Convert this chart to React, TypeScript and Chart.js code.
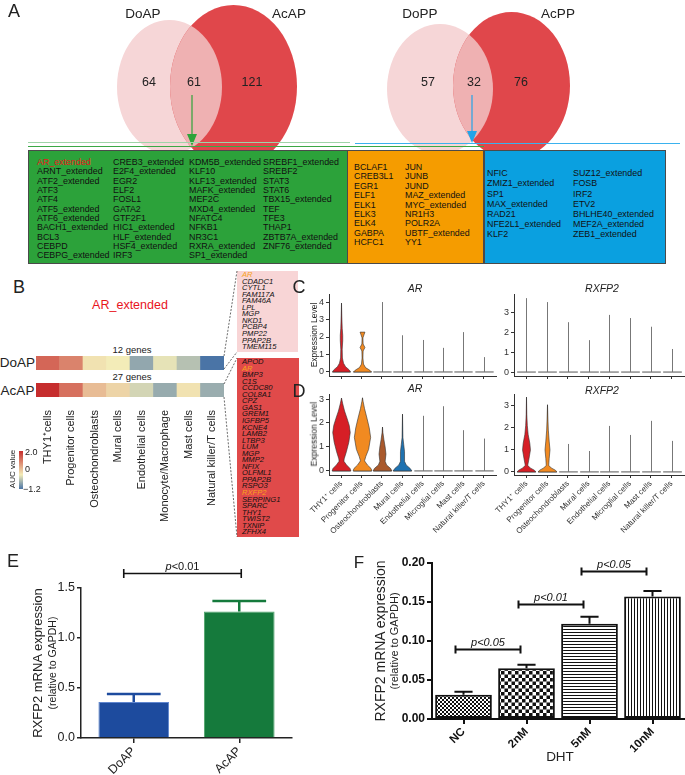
import React, { useEffect, useRef } from 'react';
import { Chart, registerables } from 'chart.js';

Chart.register(...registerables);

const FONT = 'Arial, "Liberation Sans", Helvetica, sans-serif';
Chart.defaults.font.family = FONT;
Chart.defaults.color = '#222';

/* ================= DATA ================= */
// Panel A – Venn diagrams
const vennAPSets = ['DoAP', 'AcAP'];
const vennAPCounts = [64, 61, 121];
const vennPPSets = ['DoPP', 'AcPP'];
const vennPPCounts = [57, 32, 76];

// Panel A – transcription factor tables
const tfAP1 = ['AR_extended', 'ARNT_extended', 'ATF2_extended', 'ATF3', 'ATF4', 'ATF5_extended', 'ATF6_extended', 'BACH1_extended', 'BCL3', 'CEBPD', 'CEBPG_extended'];
const tfAP2 = ['CREB3_extended', 'E2F4_extended', 'EGR2', 'ELF2', 'FOSL1', 'GATA2', 'GTF2F1', 'HIC1_extended', 'HLF_extended', 'HSF4_extended', 'IRF3'];
const tfAP3 = ['KDM5B_extended', 'KLF10', 'KLF13_extended', 'MAFK_extended', 'MEF2C', 'MXD4_extended', 'NFATC4', 'NFKB1', 'NR3C1', 'RXRA_extended', 'SP1_extended'];
const tfAP4 = ['SREBF1_extended', 'SREBF2', 'STAT3', 'STAT6', 'TBX15_extended', 'TEF', 'TFE3', 'THAP1', 'ZBTB7A_extended', 'ZNF76_extended'];
const tfBoth1 = ['BCLAF1', 'CREB3L1', 'EGR1', 'ELF1', 'ELK1', 'ELK3', 'ELK4', 'GABPA', 'HCFC1'];
const tfBoth2 = ['JUN', 'JUNB', 'JUND', 'MAZ_extended', 'MYC_extended', 'NR1H3', 'POLR2A', 'UBTF_extended', 'YY1'];
const tfPP1 = ['NFIC', 'ZMIZ1_extended', 'SP1', 'MAX_extended', 'RAD21', 'NFE2L1_extended', 'KLF2'];
const tfPP2 = ['SUZ12_extended', 'FOSB', 'IRF2', 'ETV2', 'BHLHE40_extended', 'MEF2A_extended', 'ZEB1_extended'];

// Panel B – AUC heatmap
const regulonName = 'AR_extended';
const cellTypesB = ['THY1⁺cells', 'Progenitor cells', 'Osteochondroblasts', 'Mural cells', 'Endothelial cells', 'Monocyte/Macrophage', 'Mast cells', 'Natural killer/T cells'];
const heatRows = ['DoAP', 'AcAP'];
const heatRowGenes = ['12 genes', '27 genes'];
const aucDoAP = [1.4, 1.1, 0.1, 0.0, -0.69, -0.09, -0.43, -1.2];
const aucAcAP = [2.0, 1.3, 0.5, 0.25, -0.23, -0.65, 0.1, -0.63];
const aucScaleLabels = ['2.0', '0', '−1.2'];
const genesDoAP = ['AR', 'CDADC1', 'CYTL1', 'FAM117A', 'FAM46A', 'LPL', 'MGP', 'NKD1', 'PCBP4', 'PMP22', 'PPAP2B', 'TMEM115'];
const genesAcAP = ['APOD', 'AR', 'BMP3', 'C1S', 'CCDC80', 'COL8A1', 'CPZ', 'GAS1', 'GREM1', 'IGFBP5', 'KCNE4', 'LAMB2', 'LTBP3', 'LUM', 'MGP', 'MMP2', 'NFIX', 'OLFML1', 'PPAP2B', 'RSPO3', 'RXFP2', 'SERPING1', 'SPARC', 'THY1', 'TWIST2', 'TXNIP', 'ZFHX4'];
const highlightGenes = ['AR', 'RXFP2'];

// Panels C / D – violin plots
const cellTypesCD = ['THY1⁺ cells', 'Progenitor cells', 'Osteochondroblasts', 'Mural cells', 'Endothelial cells', 'Microglial cells', 'Mast cells', 'Natural killer/T cells'];
const cArMax = [3.94, 2.28, 4.0, 2.1, 1.83, 1.38, 2.28, 0.85];
const cRxMax = [3.75, 3.55, 2.53, 1.62, 2.9, 2.74, 2.3, 1.17];
const dArMax = [3.04, 3.05, 1.83, 2.37, 2.3, 2.7, 1.7, 1.35];
const dRxMax = [3.4, 3.05, 1.27, 0.95, 2.09, 1.68, 2.32, 1.41];
// density outlines: [expression level, half width as fraction of slot]
const cArThy1 = [[0, 0.44], [0.12, 0.38], [0.3, 0.2], [0.5, 0.1], [0.8, 0.045], [1.3, 0.035], [1.8, 0.06], [2.1, 0.06], [2.5, 0.035], [3.2, 0.015], [3.94, 0]];
const cArProg = [[0, 0.44], [0.1, 0.36], [0.25, 0.15], [0.45, 0.05], [0.8, 0.02], [1.2, 0.03], [1.4, 0.12], [1.6, 0.03], [1.95, 0.02], [2.15, 0.08], [2.28, 0.12], [2.28, 0]];
const dArThy1 = [[0, 0.46], [0.1, 0.42], [0.25, 0.25], [0.4, 0.12], [0.5, 0.13], [0.8, 0.24], [1.2, 0.36], [1.6, 0.43], [1.9, 0.38], [2.2, 0.27], [2.5, 0.15], [2.8, 0.06], [3.04, 0]];
const dArProg = [[0, 0.46], [0.1, 0.42], [0.25, 0.24], [0.42, 0.1], [0.6, 0.16], [0.9, 0.3], [1.4, 0.4], [1.8, 0.33], [2.2, 0.22], [2.6, 0.1], [2.9, 0.03], [3.05, 0]];
const dArOsteo = [[0, 0.46], [0.1, 0.4], [0.25, 0.2], [0.4, 0.13], [0.7, 0.17], [1.0, 0.13], [1.3, 0.07], [1.6, 0.02], [1.83, 0]];
const dArMural = [[0, 0.46], [0.1, 0.38], [0.25, 0.18], [0.4, 0.1], [0.8, 0.1], [1.1, 0.06], [1.4, 0.02], [2.37, 0]];
const dRxThy1 = [[0, 0.45], [0.08, 0.38], [0.18, 0.18], [0.3, 0.06], [0.6, 0.12], [1.0, 0.19], [1.3, 0.16], [1.7, 0.08], [2.1, 0.04], [2.6, 0.015], [3.4, 0]];
const dRxProg = [[0, 0.45], [0.08, 0.38], [0.18, 0.18], [0.3, 0.06], [0.6, 0.08], [1.0, 0.12], [1.4, 0.08], [1.9, 0.04], [2.4, 0.02], [3.05, 0]];
const cArTicks = [0, 1, 2, 3, 4];
const rxTicks = [0, 1, 2, 3];
const dArTicks = [0, 1, 2, 3];

// Panel E
const eGroups = ['DoAP', 'AcAP'];
const eMeans = [0.36, 1.265];
const eErrors = [0.08, 0.105];
const eTicks = [0, 0.5, 1.0, 1.5];
const eComparisons: [number, number, number, string][] = [[0, 1, 1.65, 'p<0.01']];

// Panel F
const fGroups = ['NC', '2nM', '5nM', '10nM'];
const fMeans = [0.031, 0.065, 0.122, 0.157];
const fErrors = [0.004, 0.0045, 0.009, 0.007];
const fTicks = [0, 0.05, 0.1, 0.15, 0.2];
const fComparisons: [number, number, number, string][] = [[0, 1, 0.09, 'p<0.05'], [1, 2, 0.148, 'p<0.01'], [2, 3, 0.19, 'p<0.05']];

/* ================= HELPERS ================= */
const fixW = (w: number) => (s: any) => { s.width = w; s.paddingTop = 0; s.paddingBottom = 0; s.paddingLeft = 0; s.paddingRight = 0; };
const fixH = (h: number) => (s: any) => { s.height = h; s.paddingTop = 0; s.paddingBottom = 0; s.paddingLeft = 0; s.paddingRight = 0; };

const base = (padding: any) => ({
  responsive: false,
  animation: false,
  devicePixelRatio: 1,
  events: [],
  layout: { padding },
  plugins: { legend: { display: false }, tooltip: { enabled: false }, title: { display: false } },
});

function aucColor(v: number) {
  const lo = [74, 116, 166], mid = [243, 236, 184], hi = [198, 45, 45];
  const b = v >= 0 ? hi : lo;
  const t = v >= 0 ? Math.min(1, v / 2.0) : Math.min(1, -v / 1.2);
  const c = mid.map((m, k) => Math.round(m + (b[k] - m) * t));
  return `rgb(${c.join(',')})`;
}

// Venn geometry (layout)
const VENN_AP = [{ cx: 169.5, cy: 87, rx: 52.5, ry: 67 }, { cx: 233.5, cy: 86.5, rx: 63.5, ry: 81.5 }];
const VENN_PP = [{ cx: 440, cy: 89, rx: 53, ry: 65 }, { cx: 511.5, cy: 85.5, rx: 58.5, ry: 73.5 }];

const vennPlugin = {
  id: 'venn',
  afterDatasetsDraw(chart: any) {
    const { ctx } = chart;
    const x = chart.scales.x, y = chart.scales.y;
    const ell = (e: any) => {
      const px = x.getPixelForValue(e.cx), py = y.getPixelForValue(e.cy);
      const rx = Math.abs(x.getPixelForValue(e.cx + e.rx) - px), ry = Math.abs(y.getPixelForValue(e.cy + e.ry) - py);
      ctx.beginPath();
      ctx.ellipse(px, py, rx, ry, 0, 0, Math.PI * 2);
    };
    ctx.save();
    [VENN_AP, VENN_PP].forEach(([a, b]) => {
      ctx.fillStyle = '#f6d6d7'; ell(a); ctx.fill();
      ctx.fillStyle = '#e0474b'; ell(b); ctx.fill();
      ctx.save(); ell(b); ctx.clip(); ctx.fillStyle = '#efb1b2'; ell(a); ctx.fill(); ctx.restore();
    });
    const arrow = (ax: number, y0: number, y1: number, col: string) => {
      const px = x.getPixelForValue(ax);
      ctx.strokeStyle = col; ctx.fillStyle = col; ctx.lineWidth = 1.2;
      ctx.beginPath(); ctx.moveTo(px, y.getPixelForValue(y0)); ctx.lineTo(px, y.getPixelForValue(y1 - 10)); ctx.stroke();
      ctx.beginPath();
      ctx.moveTo(px - 5, y.getPixelForValue(y1 - 12));
      ctx.lineTo(px + 5, y.getPixelForValue(y1 - 12));
      ctx.lineTo(px, y.getPixelForValue(y1));
      ctx.closePath(); ctx.fill();
    };
    arrow(192, 95, 146, '#2ea33a');
    arrow(472, 95, 143, '#22a4e8');
    const hline = (x0: number, x1: number, yy: number, col: string, lw: number) => {
      ctx.strokeStyle = col; ctx.lineWidth = lw;
      ctx.beginPath(); ctx.moveTo(x.getPixelForValue(x0), y.getPixelForValue(yy)); ctx.lineTo(x.getPixelForValue(x1), y.getPixelForValue(yy)); ctx.stroke();
    };
    hline(28, 350, 142.5, '#9fd4a8', 1);
    hline(355, 680, 143.5, '#3ab2ee', 1.2);
    hline(28, 484, 146.5, '#3aa845', 1);
    ctx.restore();
  },
};

const violinPlugin = (maxima: number[], shapes: any[]) => ({
  id: 'violins',
  afterDatasetsDraw(chart: any) {
    const { ctx } = chart;
    const x = chart.scales.x, y = chart.scales.y;
    const unit = x.getPixelForValue(1) - x.getPixelForValue(0);
    const cols = ['#d61f26', '#f18a21', '#a9592c', '#1f72b0'];
    ctx.save();
    maxima.forEach((m, i) => {
      const cx = Math.round(x.getPixelForValue(i)) + 0.5;
      const y0 = y.getPixelForValue(0);
      ctx.lineWidth = 1;
      ctx.strokeStyle = '#555';
      ctx.beginPath(); ctx.moveTo(cx - 0.45 * unit, y0); ctx.lineTo(cx + 0.45 * unit, y0); ctx.stroke();
      ctx.strokeStyle = '#777';
      ctx.beginPath(); ctx.moveTo(cx, y0); ctx.lineTo(cx, y.getPixelForValue(m)); ctx.stroke();
      const shape = shapes[i];
      if (shape) {
        ctx.beginPath();
        shape.forEach(([v, w]: number[], k: number) => {
          const px = cx + w * unit, py = y.getPixelForValue(v);
          if (k === 0) ctx.moveTo(px, py); else ctx.lineTo(px, py);
        });
        for (let k = shape.length - 1; k >= 0; k--) {
          const [v, w] = shape[k];
          ctx.lineTo(cx - w * unit, y.getPixelForValue(v));
        }
        ctx.closePath();
        ctx.fillStyle = cols[i] || '#888';
        ctx.fill();
        ctx.strokeStyle = '#333'; ctx.lineWidth = 0.6; ctx.stroke();
      }
    });
    ctx.restore();
  },
});

const violinConfig = (o: any) => () => ({
  type: 'scatter',
  data: { datasets: [{ data: [] }] },
  options: {
    ...base({ top: o.padTop, right: o.padRight, left: 0, bottom: 0 }),
    scales: {
      x: {
        type: 'linear', min: -0.6, max: 7.6,
        afterBuildTicks: (s: any) => { s.ticks = cellTypesCD.map((_, i) => ({ value: i })); },
        ticks: { autoSkip: false, callback: (v: any) => (o.labels ? cellTypesCD[v] : ''), font: { size: 8 }, color: '#333', minRotation: 45, maxRotation: 45, padding: 1 },
        grid: { drawOnChartArea: false, tickLength: 3, color: '#333', lineWidth: 1 },
        border: { color: '#333', width: 1 },
        afterFit: fixH(o.xH),
      },
      y: {
        type: 'linear', min: o.min, max: o.max,
        afterBuildTicks: (s: any) => { s.ticks = o.ticks.map((v: number) => ({ value: v })); },
        ticks: { font: { size: 9 }, color: '#333', padding: 2, callback: (v: any) => String(v) },
        grid: { drawOnChartArea: false, tickLength: 3, color: '#333', lineWidth: 1 },
        border: { color: '#333', width: 1 },
        afterFit: fixW(o.yW),
      },
    },
  },
  plugins: [violinPlugin(o.maxima, o.shapes)],
});

const errorPlugin = (errors: number[], style: any) => ({
  id: 'errorbars',
  afterDatasetsDraw(chart: any) {
    const { ctx } = chart;
    const meta = chart.getDatasetMeta(0);
    const y = chart.scales.y;
    const data = chart.data.datasets[0].data;
    ctx.save();
    ctx.lineWidth = style.lw;
    meta.data.forEach((bar: any, i: number) => {
      const top = y.getPixelForValue(data[i] + errors[i]);
      const half = bar.width * style.cap;
      ctx.strokeStyle = style.colors[i % style.colors.length];
      ctx.beginPath();
      ctx.moveTo(bar.x, bar.y); ctx.lineTo(bar.x, top);
      ctx.moveTo(bar.x - half, top); ctx.lineTo(bar.x + half, top);
      ctx.stroke();
    });
    ctx.restore();
  },
});

const bracketPlugin = (items: [number, number, number, string][], st: any) => ({
  id: 'brackets',
  afterDatasetsDraw(chart: any) {
    const { ctx } = chart;
    const x = chart.scales.x, y = chart.scales.y;
    ctx.save();
    ctx.strokeStyle = '#111'; ctx.fillStyle = '#111'; ctx.lineWidth = st.lw;
    items.forEach(([a, b, v, label]) => {
      const x0 = x.getPixelForValue(a) + st.dx0, x1 = x.getPixelForValue(b) + st.dx1;
      const py = Math.round(y.getPixelForValue(v)) + 0.5;
      ctx.beginPath();
      ctx.moveTo(x0, py); ctx.lineTo(x1, py);
      ctx.moveTo(x0, py - st.tick); ctx.lineTo(x0, py + st.tick);
      ctx.moveTo(x1, py - st.tick); ctx.lineTo(x1, py + st.tick);
      ctx.stroke();
      const cx = (x0 + x1) / 2, by = py - st.gap;
      ctx.textBaseline = 'alphabetic';
      if (st.allItalic) {
        ctx.font = `italic ${st.size}px ${FONT}`;
        ctx.textAlign = 'center';
        ctx.fillText(label, cx, by);
      } else {
        const p = label.slice(0, 1), rest = label.slice(1);
        ctx.font = `italic ${st.size}px ${FONT}`;
        const wp = ctx.measureText(p).width;
        ctx.font = `${st.size}px ${FONT}`;
        const wr = ctx.measureText(rest).width;
        const sx = cx - (wp + wr) / 2;
        ctx.textAlign = 'left';
        ctx.font = `italic ${st.size}px ${FONT}`;
        ctx.fillText(p, sx, by);
        ctx.font = `${st.size}px ${FONT}`;
        ctx.fillText(rest, sx + wp, by);
      }
    });
    ctx.restore();
  },
});

function makePattern(kind: string) {
  const c = document.createElement('canvas');
  const g = c.getContext('2d') as CanvasRenderingContext2D;
  if (kind === 'fine') {
    c.width = 4; c.height = 4;
    g.fillStyle = '#fff'; g.fillRect(0, 0, 4, 4);
    g.fillStyle = '#111'; g.fillRect(0, 0, 2, 2); g.fillRect(2, 2, 2, 2);
  } else if (kind === 'checker') {
    c.width = 7; c.height = 7;
    g.fillStyle = '#fff'; g.fillRect(0, 0, 7, 7);
    g.fillStyle = '#111';
    g.fillRect(0, 0, 3.5, 3.5); g.fillRect(3.5, 3.5, 3.5, 3.5);
  } else if (kind === 'h') {
    c.width = 4; c.height = 3;
    g.fillStyle = '#fff'; g.fillRect(0, 0, 4, 3);
    g.fillStyle = '#111'; g.fillRect(0, 0, 4, 1);
  } else {
    c.width = 3; c.height = 4;
    g.fillStyle = '#fff'; g.fillRect(0, 0, 3, 4);
    g.fillStyle = '#111'; g.fillRect(0, 0, 1, 4);
  }
  return g.createPattern(c, 'repeat');
}

/* ================= CHART CONFIGS ================= */
const vennConfig = () => ({
  type: 'scatter',
  data: { datasets: [{ data: [] }] },
  options: {
    ...base({ top: 0, left: 0, right: 0, bottom: 0 }),
    scales: {
      x: { type: 'linear', min: 0, max: 685, display: false },
      y: { type: 'linear', min: 0, max: 150, reverse: true, display: false },
    },
  },
  plugins: [vennPlugin],
});

const heatConfig = () => ({
  type: 'bar',
  data: {
    labels: cellTypesB,
    datasets: [
      { label: heatRows[0], data: cellTypesB.map(() => [0, 1]), backgroundColor: aucDoAP.map(aucColor), borderWidth: 0, barPercentage: 1, categoryPercentage: 1, grouped: false },
      { label: heatRows[1], data: cellTypesB.map(() => [2, 3]), backgroundColor: aucAcAP.map(aucColor), borderWidth: 0, barPercentage: 1, categoryPercentage: 1, grouped: false },
    ],
  },
  options: {
    ...base({ top: 6, left: 6, right: 6, bottom: 0 }),
    scales: {
      x: {
        grid: { display: false }, border: { display: false },
        ticks: { font: { size: 11 }, color: '#222', minRotation: 90, maxRotation: 90, autoSkip: false, padding: 5 },
        afterFit: fixH(143),
      },
      y: { display: false, min: 0, max: 3, reverse: true },
    },
  },
});

const eConfig = () => ({
  type: 'bar',
  data: {
    labels: eGroups,
    datasets: [{ data: eMeans, backgroundColor: ['#1d4b9e', '#157a3c'], borderColor: ['#5f86cf', '#4fa56c'], borderWidth: 1, barPercentage: 0.67, categoryPercentage: 1 }],
  },
  options: {
    ...base({ top: 43, right: 8, left: 0, bottom: 0 }),
    scales: {
      x: {
        grid: { offset: false, drawOnChartArea: false, tickLength: 5, color: '#222', lineWidth: 1.5 },
        border: { color: '#222', width: 1.5 },
        ticks: { font: { size: 12.5 }, color: '#222', minRotation: 45, maxRotation: 45, padding: 1 },
        afterFit: fixH(37),
      },
      y: {
        min: 0, max: 1.5,
        afterBuildTicks: (s: any) => { s.ticks = eTicks.map((v) => ({ value: v })); },
        ticks: { font: { size: 12.5 }, color: '#222', padding: 2, callback: (v: any) => Number(v).toFixed(1) },
        grid: { drawOnChartArea: false, tickLength: 4, color: '#222', lineWidth: 1.5 },
        border: { color: '#222', width: 1.5 },
        afterFit: fixW(81),
      },
    },
  },
  plugins: [
    errorPlugin(eErrors, { lw: 2.5, cap: 0.38, colors: ['#1d4b9e', '#157a3c'] }),
    bracketPlugin(eComparisons, { lw: 1.6, dx0: -10, dx1: 2, tick: 4.5, gap: 4, size: 11, allItalic: false }),
  ],
});

const fConfig = () => ({
  type: 'bar',
  data: {
    labels: fGroups,
    datasets: [{
      data: fMeans,
      backgroundColor: [makePattern('fine'), makePattern('checker'), makePattern('h'), makePattern('v')],
      borderColor: '#111', borderWidth: 2, borderSkipped: false, barPercentage: 0.9, categoryPercentage: 1,
    }],
  },
  options: {
    ...base({ top: 18, right: 1, left: 0, bottom: 0 }),
    scales: {
      x: {
        grid: { offset: false, drawOnChartArea: false, tickLength: 5, color: '#111', lineWidth: 2 },
        border: { color: '#111', width: 2 },
        ticks: { font: { size: 11.5, weight: 'bold' }, color: '#111', minRotation: 45, maxRotation: 45, padding: 1 },
        afterFit: fixH(56),
      },
      y: {
        min: 0, max: 0.2,
        afterBuildTicks: (s: any) => { s.ticks = fTicks.map((v) => ({ value: v })); },
        ticks: { font: { size: 12, weight: 'bold' }, color: '#111', padding: 2, callback: (v: any) => Number(v).toFixed(2) },
        grid: { drawOnChartArea: false, tickLength: 5, color: '#111', lineWidth: 2 },
        border: { color: '#111', width: 2 },
        afterFit: fixW(92),
      },
    },
  },
  plugins: [
    errorPlugin(fErrors, { lw: 2, cap: 0.16, colors: ['#111'] }),
    bracketPlugin(fComparisons, { lw: 2, dx0: -8, dx1: -6, tick: 4, gap: 4, size: 11, allItalic: true }),
  ],
});

/* ================= COMPONENTS ================= */
function ChartBox({ left, top, width, height, make }: any) {
  const ref = useRef<HTMLCanvasElement>(null);
  useEffect(() => {
    const chart = new Chart(ref.current as HTMLCanvasElement, make());
    return () => chart.destroy();
  }, []);
  return <canvas ref={ref} width={width} height={height} style={{ position: 'absolute', left, top, width, height, display: 'block' }} />;
}

function Txt({ x, y, children, size = 11, color = '#222', italic = false, bold = false, rot = 0, anchor = 'center' }: any) {
  const tx = anchor === 'left' ? '0' : anchor === 'right' ? '-100%' : '-50%';
  return (
    <div style={{
      position: 'absolute', left: x, top: y, transform: `translate(${tx}, -50%) rotate(${rot}deg)`,
      fontSize: size, color, fontStyle: italic ? 'italic' : 'normal', fontWeight: bold ? 'bold' : 'normal',
      whiteSpace: 'nowrap', lineHeight: 1, fontFamily: FONT,
    }}>{children}</div>
  );
}

function Col({ items, x, y0, lh, size, italic = false, highlight = [] as string[], hcolor = '#e8141c' }: any) {
  return <>{items.map((t: string, i: number) => (
    <Txt key={t + i} x={x} y={y0 + i * lh} anchor="left" size={size} italic={italic} color={highlight.includes(t) ? hcolor : '#111'}>{t}</Txt>
  ))}</>;
}

const box = (left: number, top: number, width: number, height: number, bg: string, border = '1px solid #4a4a4a') => (
  <div style={{ position: 'absolute', left, top, width, height, background: bg, border, boxSizing: 'border-box' }} />
);

export default function App() {
  useEffect(() => { document.body.style.margin = '0'; }, []);
  return (
    <div style={{ position: 'absolute', left: 0, top: 0, width: 685, height: 775, background: '#fff', overflow: 'hidden', fontFamily: FONT }}>
      {/* Panel A */}
      <ChartBox left={0} top={0} width={685} height={150} make={vennConfig} />
      <Txt x={14} y={11} size={18}>A</Txt>
      <Txt x={143} y={14} size={13.5}>{vennAPSets[0]}</Txt>
      <Txt x={289} y={14} size={13.5}>{vennAPSets[1]}</Txt>
      <Txt x={420} y={14} size={13.5}>{vennPPSets[0]}</Txt>
      <Txt x={558} y={14} size={13.5}>{vennPPSets[1]}</Txt>
      <Txt x={149} y={82} size={12.5}>{vennAPCounts[0]}</Txt>
      <Txt x={194} y={82} size={12.5}>{vennAPCounts[1]}</Txt>
      <Txt x={252} y={82} size={12.5}>{vennAPCounts[2]}</Txt>
      <Txt x={428} y={82} size={12.5}>{vennPPCounts[0]}</Txt>
      <Txt x={474} y={82} size={12.5}>{vennPPCounts[1]}</Txt>
      <Txt x={521} y={82} size={12.5}>{vennPPCounts[2]}</Txt>

      {box(28, 150, 320, 114, '#2ca23a')}
      {box(347, 150, 137, 114, '#f59c00')}
      {box(484, 150, 182, 114, '#0aa0e0')}
      <Col items={tfAP1} x={37} y0={162} lh={9.33} size={8.9} highlight={['AR_extended']} />
      <Col items={tfAP2} x={113} y0={162} lh={9.33} size={8.9} />
      <Col items={tfAP3} x={189} y0={162} lh={9.33} size={8.9} />
      <Col items={tfAP4} x={263} y0={162} lh={9.33} size={8.9} />
      <Col items={tfBoth1} x={354} y0={167} lh={9.38} size={8.9} />
      <Col items={tfBoth2} x={405} y0={167} lh={9.38} size={8.9} />
      <Col items={tfPP1} x={487} y0={173.3} lh={10.15} size={8.9} />
      <Col items={tfPP2} x={573} y0={173.3} lh={10.15} size={8.9} />

      {/* Panel B */}
      <Txt x={19} y={287} size={18}>B</Txt>
      <Txt x={130} y={305} size={12.5} color="#e8141c">{regulonName}</Txt>
      <Txt x={132} y={350} size={9.5}>{heatRowGenes[0]}</Txt>
      <Txt x={132} y={377} size={9.5}>{heatRowGenes[1]}</Txt>
      <Txt x={17.5} y={363} size={13.5}>{heatRows[0]}</Txt>
      <Txt x={17.5} y={391} size={13.5}>{heatRows[1]}</Txt>
      <ChartBox left={30} top={350} width={200} height={190} make={heatConfig} />
      <div style={{ position: 'absolute', left: 19, top: 451, width: 4, height: 38, background: 'linear-gradient(to bottom, rgb(198,45,45) 0%, rgb(243,236,184) 62.5%, rgb(74,116,166) 100%)' }} />
      <Txt x={25} y={452} size={9} anchor="left">{aucScaleLabels[0]}</Txt>
      <Txt x={25} y={469} size={9} anchor="left">{aucScaleLabels[1]}</Txt>
      <Txt x={23} y={489} size={9} anchor="left">{aucScaleLabels[2]}</Txt>
      <Txt x={13} y={469} size={8} rot={-90}>AUC value</Txt>

      {box(237, 271, 61, 81, '#f8d5d6', 'none')}
      {box(237, 358, 62, 179, '#e04a4a', 'none')}
      <Col items={genesDoAP} x={242} y0={275} lh={6.55} size={7.6} italic highlight={highlightGenes} hcolor="#f7a21b" />
      <Col items={genesAcAP} x={242} y0={362} lh={6.55} size={7.6} italic highlight={highlightGenes} hcolor="#f7a21b" />
      <svg style={{ position: 'absolute', left: 0, top: 0 }} width={685} height={775}>
        <line x1={224} y1={356} x2={237} y2={271} stroke="#444" strokeDasharray="2 1.5" strokeWidth={0.8} />
        <line x1={224} y1={369} x2={237} y2={352} stroke="#444" strokeDasharray="2 1.5" strokeWidth={0.8} />
        <line x1={224} y1={384} x2={237} y2={358} stroke="#444" strokeDasharray="2 1.5" strokeWidth={0.8} />
        <line x1={224} y1={397} x2={237} y2={537} stroke="#444" strokeDasharray="2 1.5" strokeWidth={0.8} />
      </svg>

      {/* Panels C / D */}
      <Txt x={299} y={287} size={18}>C</Txt>
      <Txt x={299} y={391} size={18}>D</Txt>
      <ChartBox left={300} top={280} width={200} height={100} make={violinConfig({ maxima: cArMax, shapes: [cArThy1, cArProg], min: -0.23, max: 4.46, ticks: cArTicks, labels: false, xH: 4, yW: 29, padTop: 14, padRight: 4 })} />
      <ChartBox left={490} top={280} width={195} height={100} make={violinConfig({ maxima: cRxMax, shapes: [], min: -0.2, max: 3.96, ticks: rxTicks, labels: false, xH: 4, yW: 24, padTop: 14, padRight: 1 })} />
      <ChartBox left={300} top={380} width={200} height={165} make={violinConfig({ maxima: dArMax, shapes: [dArThy1, dArProg, dArOsteo, dArMural], min: -0.17, max: 3.21, ticks: dArTicks, labels: true, xH: 70, yW: 29, padTop: 14, padRight: 4 })} />
      <ChartBox left={490} top={380} width={195} height={165} make={violinConfig({ maxima: dRxMax, shapes: [dRxThy1, dRxProg], min: -0.14, max: 3.54, ticks: rxTicks, labels: true, xH: 70, yW: 24, padTop: 14, padRight: 1 })} />
      <Txt x={415} y={288} size={10.5} italic>AR</Txt>
      <Txt x={602} y={288} size={10.5} italic>RXFP2</Txt>
      <Txt x={415} y={388} size={10.5} italic>AR</Txt>
      <Txt x={602} y={390} size={10.5} italic>RXFP2</Txt>
      <Txt x={314} y={335} size={8.5} rot={-90}>Expression Level</Txt>
      <Txt x={314} y={434} size={8.5} rot={-90}>Expression Level</Txt>

      {/* Panel E */}
      <ChartBox left={0} top={545} width={300} height={230} make={eConfig} />
      <Txt x={13} y={561} size={18}>E</Txt>
      <Txt x={37} y={663} size={13} rot={-90}>RXFP2 mRNA expression</Txt>
      <Txt x={52} y={663} size={10.5} rot={-90}>(relative to GAPDH)</Txt>

      {/* Panel F */}
      <ChartBox left={340} top={545} width={345} height={230} make={fConfig} />
      <Txt x={359} y={562} size={17}>F</Txt>
      <Txt x={380} y={641} size={14} rot={-90}>RXFP2 mRNA expression</Txt>
      <Txt x={394} y={641} size={11} rot={-90}>(relative to GAPDH)</Txt>
      <Txt x={560} y={757} size={13.5}>DHT</Txt>
    </div>
  );
}
